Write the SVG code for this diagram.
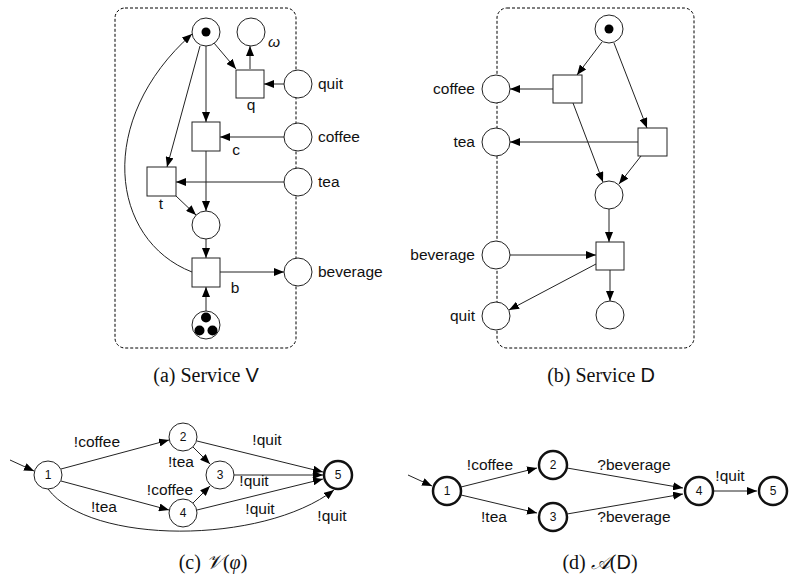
<svg xmlns="http://www.w3.org/2000/svg" width="790" height="577" viewBox="0 0 790 577">
<defs>
<style>
.pl{fill:#fff;stroke:#222;stroke-width:1}
.tr{fill:#fff;stroke:#222;stroke-width:1}
.tok{fill:#000}
.box{fill:none;stroke:#000;stroke-width:1;stroke-dasharray:3,2}
.e{fill:none;stroke:#222;stroke-width:1;marker-end:url(#ah)}
.st{fill:#fff;stroke:#222;stroke-width:1}
.fin{fill:#fff;stroke:#111;stroke-width:2.5}
.lb{font-family:"Liberation Sans",Arial,sans-serif;font-size:15.5px;fill:#111}
.num{font-family:"Liberation Sans",Arial,sans-serif;font-size:12px;fill:#111;text-anchor:middle}
.cap{font-family:"Liberation Serif","Times New Roman",serif;font-size:20px;fill:#111;text-anchor:middle}
.sf{font-family:"Liberation Sans",Arial,sans-serif}
.scr{font-family:"DejaVu Serif","DejaVu Sans","Noto Sans",serif;font-style:italic}
.m{text-anchor:middle}
.r{text-anchor:end}
</style>
<marker id="ah" viewBox="0 0 10 8" refX="10" refY="4" markerWidth="10" markerHeight="8" markerUnits="userSpaceOnUse" orient="auto">
<path d="M0,0 L10,4 L0,8 z" fill="#000"/>
</marker>
</defs>

<!-- (a) Service V -->
<rect class="box" x="115" y="8" width="181" height="340" rx="10"/>
<g id="connectors-a">
<line class="e" x1="284" y1="84" x2="264" y2="84"/>
<line class="e" x1="250" y1="69" x2="250" y2="46"/>
<line class="e" x1="214" y1="43" x2="236" y2="69"/>
<line class="e" x1="206" y1="46" x2="206" y2="122"/>
<line class="e" x1="284" y1="137" x2="220" y2="137"/>
<line class="e" x1="200" y1="46" x2="167" y2="167"/>
<line class="e" x1="284" y1="182" x2="176" y2="182"/>
<line class="e" x1="206" y1="151" x2="206" y2="211"/>
<line class="e" x1="176" y1="196" x2="196" y2="215"/>
<line class="e" x1="206" y1="239" x2="206" y2="258"/>
<line class="e" x1="220" y1="272" x2="284" y2="272"/>
<line class="e" x1="206" y1="311" x2="206" y2="287"/>
<path class="e" d="M192,272 C110,240 95,120 192,34"/>
</g>
<g id="a-start"><circle class="pl" cx="206" cy="32" r="14"/><circle class="tok" cx="206" cy="32" r="4.5"/></g>
<g id="a-omega"><circle class="pl" cx="251" cy="32" r="14"/><text class="lb" x="268" y="47" font-style="italic" font-family="DejaVu Serif,serif">ω</text></g>
<g id="a-q"><rect class="tr" x="236" y="70" width="28" height="28"/><text class="lb m" x="251" y="110">q</text></g>
<g id="a-quit"><circle class="pl" cx="298" cy="84" r="14"/><text class="lb" x="318" y="89">quit</text></g>
<g id="a-c"><rect class="tr" x="192" y="122" width="28" height="29"/><text class="lb m" x="236" y="155">c</text></g>
<g id="a-coffee"><circle class="pl" cx="298" cy="137" r="14"/><text class="lb" x="318" y="142">coffee</text></g>
<g id="a-t"><rect class="tr" x="147" y="167" width="29" height="29"/><text class="lb m" x="161" y="209">t</text></g>
<g id="a-tea"><circle class="pl" cx="298" cy="182" r="14"/><text class="lb" x="318" y="187">tea</text></g>
<g id="a-mid"><circle class="pl" cx="206" cy="225" r="14"/></g>
<g id="a-b"><rect class="tr" x="192" y="258" width="28" height="29"/><text class="lb m" x="235" y="293">b</text></g>
<g id="a-beverage"><circle class="pl" cx="298" cy="272" r="14"/><text class="lb" x="318" y="277">beverage</text></g>
<g id="a-bottom"><circle class="pl" cx="206" cy="325" r="14"/><circle class="tok" cx="206" cy="317.5" r="5"/><circle class="tok" cx="199.5" cy="330.5" r="5"/><circle class="tok" cx="212.5" cy="330.5" r="5"/></g>
<text class="cap" x="206" y="382">(a) Service <tspan class="sf">V</tspan></text>

<!-- (b) Service D -->
<rect class="box" x="497" y="8" width="197" height="340" rx="10"/>
<g id="connectors-b">
<line class="e" x1="602" y1="42" x2="577" y2="75"/>
<line class="e" x1="614" y1="43" x2="647" y2="128"/>
<line class="e" x1="553" y1="89" x2="510" y2="89"/>
<line class="e" x1="638" y1="142" x2="510" y2="142"/>
<line class="e" x1="573" y1="103" x2="603" y2="182"/>
<line class="e" x1="641" y1="156" x2="619" y2="184"/>
<line class="e" x1="609" y1="209" x2="609" y2="242"/>
<line class="e" x1="510" y1="255" x2="596" y2="255"/>
<line class="e" x1="596" y1="264" x2="509" y2="310"/>
<line class="e" x1="610" y1="270" x2="610" y2="301"/>
</g>
<g id="b-start"><circle class="pl" cx="609" cy="29" r="14"/><circle class="tok" cx="609" cy="29" r="4.5"/></g>
<g id="b-t1"><rect class="tr" x="553" y="75" width="29" height="28"/></g>
<g id="b-t2"><rect class="tr" x="638" y="128" width="29" height="28"/></g>
<g id="b-coffee"><circle class="pl" cx="496" cy="89" r="14"/><text class="lb r" x="475" y="94">coffee</text></g>
<g id="b-tea"><circle class="pl" cx="496" cy="142" r="14"/><text class="lb r" x="475" y="147">tea</text></g>
<g id="b-mid"><circle class="pl" cx="609" cy="195" r="14"/></g>
<g id="b-t3"><rect class="tr" x="596" y="242" width="28" height="28"/></g>
<g id="b-beverage"><circle class="pl" cx="496" cy="255" r="14"/><text class="lb r" x="475" y="260">beverage</text></g>
<g id="b-quit"><circle class="pl" cx="496" cy="316" r="14"/><text class="lb r" x="475" y="321">quit</text></g>
<g id="b-end"><circle class="pl" cx="610" cy="315" r="14"/></g>
<text class="cap" x="601" y="382">(b) Service <tspan class="sf">D</tspan></text>

<!-- (c) -->
<g id="connectors-c">
<line class="e" x1="10" y1="460" x2="34" y2="471"/>
<line class="e" x1="61" y1="469" x2="169" y2="440"/>
<line class="e" x1="61" y1="481" x2="169" y2="510"/>
<line class="e" x1="193" y1="447" x2="210" y2="464"/>
<line class="e" x1="193" y1="503" x2="210" y2="486"/>
<line class="e" x1="197" y1="441" x2="323" y2="472"/>
<line class="e" x1="234" y1="475" x2="323" y2="475"/>
<line class="e" x1="197" y1="510" x2="323" y2="479"/>
<path class="e" d="M48,489 C90,545 262,545 334,490"/>
</g>
<g class="lb m">
<text x="97" y="447">!coffee</text>
<text x="104" y="512">!tea</text>
<text x="181" y="467">!tea</text>
<text x="170" y="495">!coffee</text>
<text x="267" y="445">!quit</text>
<text x="254" y="486">!quit</text>
<text x="260" y="514">!quit</text>
<text x="332" y="521">!quit</text>
</g>
<g id="c1"><circle class="st" cx="48" cy="475" r="14"/><text class="num" x="48" y="479">1</text></g>
<g id="c2"><circle class="st" cx="183" cy="437" r="14"/><text class="num" x="183" y="441">2</text></g>
<g id="c3"><circle class="st" cx="220" cy="475" r="14"/><text class="num" x="220" y="479">3</text></g>
<g id="c4"><circle class="st" cx="183" cy="513" r="14"/><text class="num" x="183" y="517">4</text></g>
<g id="c5"><circle class="fin" cx="338" cy="475" r="14"/><text class="num" x="338" y="479">5</text></g>
<text class="cap" x="213" y="569">(c) <tspan class="scr">𝒱</tspan>(<tspan font-style="italic">φ</tspan>)</text>

<!-- (d) -->
<g id="connectors-d">
<line class="e" x1="408" y1="475" x2="432" y2="486"/>
<line class="e" x1="461" y1="487" x2="537" y2="468"/>
<line class="e" x1="461" y1="495" x2="537" y2="513"/>
<line class="e" x1="567" y1="468" x2="683" y2="488"/>
<line class="e" x1="567" y1="514" x2="683" y2="494"/>
<line class="e" x1="714" y1="491" x2="757" y2="491"/>
</g>
<g class="lb m">
<text x="490" y="470">!coffee</text>
<text x="494" y="522">!tea</text>
<text x="634" y="470">?beverage</text>
<text x="634" y="522">?beverage</text>
<text x="730" y="481">!quit</text>
</g>
<g id="d1"><circle class="fin" cx="447" cy="491" r="14"/><text class="num" x="447" y="495">1</text></g>
<g id="d2"><circle class="fin" cx="553" cy="465" r="14"/><text class="num" x="553" y="469">2</text></g>
<g id="d3"><circle class="fin" cx="553" cy="517" r="14"/><text class="num" x="553" y="521">3</text></g>
<g id="d4"><circle class="fin" cx="699" cy="491" r="14"/><text class="num" x="699" y="495">4</text></g>
<g id="d5"><circle class="fin" cx="773" cy="491" r="14"/><text class="num" x="773" y="495">5</text></g>
<text class="cap" x="600" y="569">(d) <tspan class="scr">𝒜</tspan>(<tspan class="sf">D</tspan>)</text>
</svg>
